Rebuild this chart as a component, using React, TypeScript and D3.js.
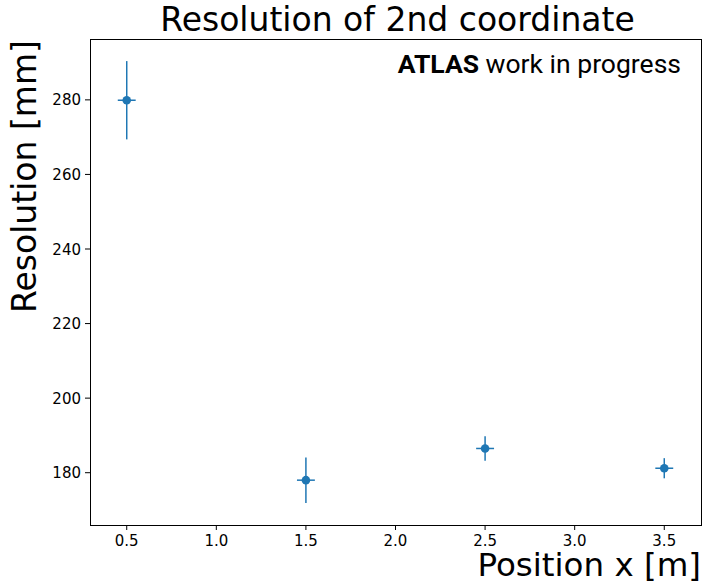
import React from "react";
import * as d3 from "d3";

const positions = [0.5, 1.5, 2.5, 3.5];
const resolution = [279.9, 178.0, 186.5, 181.2];
const resolutionErr = [10.5, 6.1, 3.3, 2.7];
const positionErr = [0.05, 0.05, 0.05, 0.05];
const xTicks = [0.5, 1.0, 1.5, 2.0, 2.5, 3.0, 3.5];
const yTicks = [180, 200, 220, 240, 260, 280];

const W = 702;
const H = 584;
const left = 90;
const right = 701;
const top = 39;
const bottom = 525;
const C0 = "#1f77b4";
const FONT = "'DejaVu Sans', sans-serif";

export default function App() {
  const xmin = d3.min(positions.map((p, i) => p - positionErr[i]))!;
  const xmax = d3.max(positions.map((p, i) => p + positionErr[i]))!;
  const ymin = d3.min(resolution.map((r, i) => r - resolutionErr[i]))!;
  const ymax = d3.max(resolution.map((r, i) => r + resolutionErr[i]))!;
  const xm = (xmax - xmin) * 0.05;
  const ym = (ymax - ymin) * 0.05;
  const x = d3.scaleLinear().domain([xmin - xm, xmax + xm]).range([left, right]);
  const y = d3.scaleLinear().domain([ymin - ym, ymax + ym]).range([bottom, top]);

  return (
    <svg
      width={W}
      height={H}
      style={{ position: "absolute", left: 0, top: 0, background: "#fff" }}
      fontFamily={FONT}
    >
      <rect x={0} y={0} width={W} height={H} fill="#fff" />
      {/* spines */}
      <rect
        x={left}
        y={top}
        width={right - left}
        height={bottom - top}
        fill="none"
        stroke="#000"
        strokeWidth={1}
        shapeRendering="crispEdges"
      />
      {/* x ticks */}
      {xTicks.map((t) => (
        <g key={"x" + t}>
          <line
            x1={x(t)}
            x2={x(t)}
            y1={bottom}
            y2={bottom + 5}
            stroke="#000"
            strokeWidth={1}
          />
          <text
            x={x(t)}
            y={bottom + 21}
            fontSize={15}
            textAnchor="middle"
            fill="#000"
          >
            {t.toFixed(1)}
          </text>
        </g>
      ))}
      {/* y ticks */}
      {yTicks.map((t) => (
        <g key={"y" + t}>
          <line
            x1={left - 5}
            x2={left}
            y1={y(t)}
            y2={y(t)}
            stroke="#000"
            strokeWidth={1}
          />
          <text
            x={left - 9}
            y={y(t) + 5.5}
            fontSize={15}
            textAnchor="end"
            fill="#000"
          >
            {t}
          </text>
        </g>
      ))}
      {/* error bars and points */}
      {positions.map((p, i) => (
        <g key={"p" + i}>
          <line
            x1={x(p)}
            x2={x(p)}
            y1={y(resolution[i] - resolutionErr[i])}
            y2={y(resolution[i] + resolutionErr[i])}
            stroke={C0}
            strokeWidth={1.5}
          />
          <line
            x1={x(p - positionErr[i])}
            x2={x(p + positionErr[i])}
            y1={y(resolution[i])}
            y2={y(resolution[i])}
            stroke={C0}
            strokeWidth={1.5}
          />
          <circle cx={x(p)} cy={y(resolution[i])} r={4.3} fill={C0} />
        </g>
      ))}
      {/* ATLAS label */}
      <text
        x={681}
        y={73}
        fontSize={26.5}
        textAnchor="end"
        fontFamily="Roboto, 'Liberation Sans', sans-serif"
        fill="#000"
      >
        <tspan fontWeight="bold">ATLAS</tspan>
        <tspan> work in progress</tspan>
      </text>
      {/* title */}
      <text
        x={(left + right) / 2 + 2}
        y={31}
        fontSize={33}
        textAnchor="middle"
        fill="#000"
      >
        Resolution of 2nd coordinate
      </text>
      {/* x label */}
      <text x={right} y={576} fontSize={32.5} textAnchor="end" fill="#000">
        Position x [m]
      </text>
      {/* y label */}
      <text
        transform={`translate(36, ${top + 1}) rotate(-90)`}
        fontSize={33}
        textAnchor="end"
        fill="#000"
      >
        Resolution [mm]
      </text>
    </svg>
  );
}
